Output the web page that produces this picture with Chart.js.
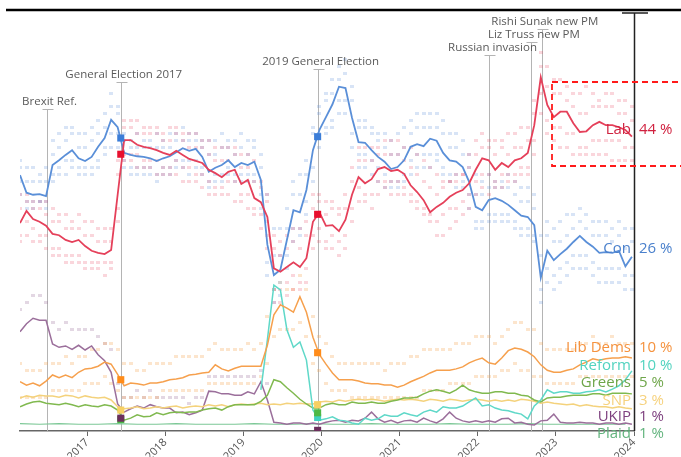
<!DOCTYPE html>
<html>
<head>
<meta charset="utf-8">
<script src="https://cdn.jsdelivr.net/npm/chart.js@4.4.1/dist/chart.umd.min.js"></script>
<style>
html, body { margin: 0; padding: 0; background: #fff; }
#wrap { width: 681px; height: 457px; }
</style>
</head>
<body>
<div id="wrap"><canvas id="myChart" width="681" height="457"></canvas></div>
<script>
// monthly polling averages, first point Feb 2016
const startYear = 2016.14;

const conVals = [37.9,35.3,35.0,35.1,34.8,39.4,40.1,40.9,41.6,40.4,40.0,40.6,
    42.1,43.4,46.1,45.0,41.2,40.9,40.7,40.6,40.4,40.0,40.4,40.7,
    41.3,41.9,41.5,41.8,40.6,38.4,39.0,39.4,40.1,39.1,39.7,39.4,
    39.9,37.2,27.6,23.1,23.9,28.3,32.7,32.4,35.7,41.6,44.6,46.5,
    48.4,51.0,50.8,46.4,42.8,42.7,41.6,40.6,39.9,38.8,39.1,40.1,
    42.1,42.5,42.2,43.3,43.0,41.2,40.1,39.9,39.1,36.9,33.2,32.7,
    34.2,34.5,34.1,33.5,32.7,31.9,31.7,30.5,22.7,26.7,25.3,26.2,
    27.0,28.0,28.9,28.0,27.3,26.4,26.5,26.4,26.7,24.4,25.8];

const labVals = [30.8,32.6,31.4,31.0,30.4,29.2,29.0,28.3,28.0,28.3,27.4,26.7,
    26.4,26.2,26.8,35.0,43.1,43.1,42.4,42.1,41.9,41.6,41.2,40.9,
    41.5,40.9,40.3,40.0,39.7,38.7,38.2,37.6,38.4,38.7,36.6,37.2,
    34.5,33.9,31.7,24.1,23.6,24.3,25.0,24.3,25.6,31.0,32.4,30.4,
    30.5,29.6,31.3,35.0,37.6,36.7,37.3,38.8,39.1,38.5,38.7,38.1,
    36.4,35.4,34.2,32.4,33.2,33.8,34.7,35.3,35.7,36.7,38.7,40.4,
    40.1,38.7,39.7,39.1,40.1,40.4,41.2,45.3,52.4,48.3,46.5,47.3,
    47.3,45.6,44.3,44.4,45.3,45.8,45.3,45.3,45.0,44.6,43.6];

const ldVals = [7.3,6.8,7.1,6.7,7.4,8.3,7.9,8.3,7.9,8.7,9.2,9.3,
    9.6,10.2,9.9,8.4,6.7,7.1,7.0,6.8,7.1,7.1,7.3,7.6,
    7.7,7.9,8.3,8.4,8.6,8.7,9.8,9.2,8.9,9.3,9.6,9.6,
    9.6,9.6,12.7,17.2,18.7,18.2,17.6,19.9,17.6,13.9,11.3,9.9,
    8.6,7.6,7.6,7.6,7.4,7.1,7.0,7.0,6.8,6.8,6.5,6.8,
    7.3,7.7,8.1,8.6,9.0,9.0,9.0,9.2,9.5,10.1,10.5,10.8,
    10.1,9.9,10.8,11.9,12.3,12.1,11.7,11.0,9.8,9.0,8.7,8.7,
    9.0,9.2,9.8,10.2,10.7,10.5,10.7,10.8,10.8,11.0,10.8];

// Brexit Party / Reform starts April 2019 (month 37)
const reformStart = 37;
const reformVals = [6.1,13.5,21.6,20.9,15.0,12.4,13.2,10.5,3.1,1.6,1.8,2.1,
    1.6,1.5,1.2,1.0,1.9,1.6,1.8,2.4,2.2,2.2,2.7,2.4,
    2.2,2.8,3.1,2.8,3.6,3.4,3.4,3.7,4.3,4.9,3.7,3.9,
    3.4,3.1,3.0,2.7,2.5,1.8,3.7,4.6,6.1,5.6,5.8,5.8,
    5.6,5.6,5.8,5.9,6.1,5.8,6.2,6.7,7.6,8.9];

const greensVals = [3.6,4.0,4.3,4.4,4.1,4.0,3.9,4.1,3.9,3.6,3.9,3.7,
    3.6,3.9,3.7,3.1,1.6,1.9,2.4,2.1,2.2,2.7,2.4,2.7,
    2.8,2.7,2.8,2.8,3.1,3.3,3.4,3.1,3.6,3.9,3.9,3.9,
    3.9,4.4,5.3,7.6,7.3,6.4,5.6,4.7,4.0,3.4,3.4,3.9,
    4.1,3.9,3.9,4.3,4.1,4.1,4.3,4.1,4.1,4.4,4.6,4.9,
    4.9,5.0,5.5,5.9,6.1,5.9,5.6,6.1,6.8,6.1,5.8,5.6,
    5.6,5.8,5.8,5.6,5.6,5.3,5.2,4.6,4.3,4.9,5.0,5.0,
    5.2,5.3,5.3,5.3,5.5,5.5,5.3,5.6,5.6,5.6,5.5];

const snpVals = [4.9,5.2,5.0,5.3,5.2,5.2,5.0,5.3,5.2,4.9,5.2,5.0,
    4.9,5.0,4.6,3.6,3.3,3.4,3.6,3.3,3.4,3.6,3.4,3.6,
    3.7,3.4,3.6,3.7,3.6,3.9,3.7,3.9,3.6,3.9,4.0,3.9,
    4.0,4.1,3.9,4.0,3.9,4.1,4.0,4.1,4.0,4.0,4.3,4.4,
    4.3,4.6,4.4,4.6,4.7,4.6,4.7,4.6,4.4,4.6,4.7,4.6,
    4.7,4.6,4.4,4.7,4.6,4.4,4.7,4.6,4.4,4.6,4.7,4.6,
    4.4,4.6,4.4,4.6,4.4,4.7,4.6,4.4,4.1,4.3,4.1,4.0,
    3.9,4.0,3.7,3.9,3.7,3.6,3.6,3.4,3.6,3.4,3.3];

const ukipVals = [14.7,15.9,16.7,16.4,16.4,12.9,12.4,12.6,12.1,12.7,12.0,12.6,
    11.3,10.4,8.7,4.0,2.8,3.3,3.7,3.4,3.9,3.6,3.4,3.4,
    2.7,2.8,2.4,2.7,3.1,5.9,5.8,5.5,5.5,5.3,5.3,5.8,
    5.5,7.3,4.6,1.3,1.2,1.0,1.2,1.2,1.0,1.2,1.0,1.3,
    1.5,1.6,1.3,1.6,1.5,1.9,2.8,1.8,1.3,1.6,1.2,1.5,
    1.6,1.3,1.9,1.5,1.2,1.8,2.8,1.9,1.5,1.3,1.5,1.3,
    1.5,1.3,1.8,1.9,1.2,1.3,1.0,0.9,1.5,1.6,2.5,1.3,
    1.2,1.2,1.3,1.2,1.2,1.0,1.2,1.2,1.0,1.2,1.0];

// plaid every 3 months
const plaidVals = [1.1,1.0,1.1,1.0,1.0,1.1,1.0,1.0,1.1,1.0,1.0,1.0,1.1,1.0,1.0,1.1,
    1.0,1.0,1.1,1.0,1.0,1.0,1.1,1.0,1.0,1.0,1.1,1.0,1.0,1.0,1.0,1.0];

// single polls: highest, typical high, typical low and lowest reading each month
const conHi = [40,39,39,38,39, 43,44,45,45,44,44,45,46,47,50, 48,
    44,43,44,43,43,44,43,44,44,45,44,44,43,43,43,44,43,43,44,43,43,
    41,35,30,30,33,37,38,40, 45,48,50,52,54,55,51,46,
    46,45,44,44,43,44,45,46,47,47,47,47,46,44,44,43,
    41,38,37,38,37,37,38,37,36,36,35,
    29,31,30,31,32,32,33,32,31,31,31,30,31,30,30];
const conMidHi = [39,37,37,37,37, 41,42,43,44,42,42,43,44,45,48, 47,
    43,42,42,42,42,42,42,42,43,43,43,43,42,41,41,42,42,41,42,41,42,
    39,31,26,26,30,35,35,38, 44,47,49,50,52,53,49,45,
    45,44,43,42,41,41,42,44,45,45,45,45,44,42,42,41,
    39,35,35,36,36,36,36,35,34,34,33,
    26,29,28,28,29,30,31,30,29,29,29,28,29,27,28];
const conMidLo = [37,34,34,34,34, 38,39,40,40,39,39,39,40,42,44, 44,
    40,39,39,39,39,38,39,39,40,40,40,40,39,37,38,38,39,38,38,38,38,
    35,25,21,22,26,30,30,34, 39,44,45,46,49,49,44,41,
    41,40,39,38,37,37,38,40,41,41,41,41,39,38,38,37,
    35,31,31,32,32,32,32,31,30,30,29,
    21,24,23,24,25,26,26,26,25,24,24,24,24,23,23];
const conLo = [35,33,33,34,33, 37,38,38,39,38,38,38,39,41,42, 42,
    39,38,38,38,38,37,38,38,39,39,38,39,38,36,37,37,38,37,37,37,37,
    33,23,19,20,24,28,29,32, 37,42,44,45,47,47,42,39,
    39,38,37,36,36,36,37,38,39,39,39,40,38,37,36,36,
    33,30,30,31,31,31,31,30,29,29,28,
    19,22,21,22,23,24,24,24,23,22,22,22,22,21,21];
const labHi = [35,35,34,34,34, 33,32,32,31,32,31,31,30,30,30, 40,
    46,46,46,45,45,45,44,45,45,44,44,44,43,43,42,42,42,42,41,41,40,
    37,35,29,28,29,30,30,31, 35,35,34,34,33,35,39,42,
    42,42,42,43,43,43,42,42,41,40,39,38,37,37,38,38,
    41,43,44,43,43,43,44,44,45,45,49,
    56,54,52,52,51,50,50,51,50,49,50,50,49,49,48];
const labMidHi = [33,34,33,33,32, 31,31,30,30,30,29,29,28,28,28, 38,
    45,45,44,44,44,44,43,43,44,43,42,42,42,41,40,40,40,41,39,39,37,
    36,34,27,26,27,28,27,29, 33,34,32,33,32,33,37,40,
    40,40,41,41,41,41,40,39,38,37,36,35,36,37,37,38,
    39,41,42,42,41,42,41,42,42,43,47,
    54,51,50,50,49,48,47,47,48,48,48,48,47,47,46];
const labMidLo = [29,31,30,29,29, 27,27,26,26,26,25,25,25,25,25, 33,
    41,41,41,40,40,40,39,39,40,39,39,38,38,37,36,36,37,37,35,35,33,
    32,29,21,21,22,23,22,24, 29,30,28,29,28,29,33,36,
    35,35,37,37,37,37,36,35,34,33,32,31,32,33,33,34,
    35,37,38,38,37,38,38,38,39,39,43,
    50,46,45,45,44,44,42,42,43,43,43,43,43,42,42];
const labLo = [28,29,28,28,27, 26,26,25,25,25,24,24,24,23,24, 31,
    40,40,39,39,39,38,38,38,38,37,37,37,36,35,35,35,35,34,34,33,32,
    30,27,19,19,20,21,21,22, 27,28,27,27,26,27,31,34,
    34,33,35,36,35,35,35,34,33,32,31,29,29,30,31,32,
    33,35,36,35,36,36,37,37,38,38,41,
    47,44,43,42,42,41,41,41,41,41,41,40,40,40,40];
const ldHi = [10,9,9,9,10,10,10,11,10,11,11,12,12,13,13, 12,
    10,10,9,9,10,10,10,10,11,11,11,11,11,12,13,12,12,12,12,13,12,
    13,17,21,22,21,21,23,21, 17,14,13,11,10,10,10,10,
    10,10,10,9,10,10,10,11,11,12,12,12,12,12,13,13,
    13,14,14,14,13,14,15,16,16,15,15,
    13,12,12,12,12,12,13,13,14,13,13,14,13,13,13];
const ldLo = [5,5,5,5,5,6,6,6,6,6,7,7,7,8,7, 6,
    5,5,5,5,5,5,6,6,6,6,6,6,6,7,7,7,7,7,7,7,7,
    8,10,14,15,15,15,16,14, 10,9,7,6,6,6,5,5,
    5,5,5,5,5,5,5,5,5,6,6,6,6,7,7,7,
    7,8,8,8,8,9,9,10,9,9,8,
    8,7,7,7,7,7,8,8,8,8,8,8,8,8,8];
// UKIP highest poll, up to the 2019 slump
const ukipHi = [18,19,20,20,19,16,15,16,15,15,15,15,14,13,12,7,5,5,6,5,
    6,5,5,5,5,5,4,5,5,8,8,8,8,8,8,8,8,9,7];

// general election results (2017, 2019)
const electionDates = [2017.43, 2019.95];
const conResult = [43.4, 43.6];
const labResult = [41.0, 32.1];
const ldResult = [7.6, 11.6];
const snpResult = [3.1, 3.9];
const greensResult = [1.7, 2.7];
const reformResult = [null, 2.0];
const ukipResult = [1.9, 0.1];

const eventNames = ['Brexit Ref.', 'General Election 2017', '2019 General Election',
    'Russian invasion', 'Liz Truss new PM', 'Rishi Sunak new PM'];
const eventDates = [2016.48, 2017.43, 2019.95, 2022.15, 2022.68, 2022.82];

const yearTicks = [2017, 2018, 2019, 2020, 2021, 2022, 2023, 2024];

const partyNames = ['Lab', 'Con', 'Lib Dems', 'Reform', 'Greens', 'SNP', 'UKIP', 'Plaid'];
const latestShare = [44, 26, 10, 10, 5, 3, 1, 1];

function pts(vals, offset, step) {
    return vals.map((v, i) => ({ x: startYear + (offset + i * step) / 12, y: v }));
}
function resultPts(vals) {
    const out = [];
    vals.forEach((v, i) => { if (v !== null) out.push({ x: electionDates[i], y: v }); });
    return out;
}

function lineSet(label, data, color, width) {
    return { type: 'line', label: label, data: data, borderColor: color, borderWidth: width,
        pointRadius: 0, tension: 0, fill: false };
}
function markerSet(label, data, color) {
    return { type: 'scatter', label: label, data: data, backgroundColor: color, borderColor: color,
        pointStyle: 'rect', pointRadius: 5, borderWidth: 0 };
}
// little dash used for single polls
function dash(color) {
    const c = document.createElement('canvas');
    c.width = 4; c.height = 3;
    const g = c.getContext('2d');
    g.fillStyle = color;
    g.fillRect(0, 0, 4, 3);
    return c;
}
function pollSet(label, data, color) {
    return { type: 'scatter', label: label, data: data, pointStyle: dash(color), pointRadius: 2 };
}

// label layout (pixels) for the events and the end labels
const capY = [109, 82, 69, 55, 42, 29];
const endLabelY = [130, 249, 348, 366, 383, 401, 417, 434];
const endLabelColor = ['#d0213f', '#4a80cc', '#f5923e', '#52d3bf', '#6fa64a', '#f6d27e', '#7d3f7e', '#63b47e'];

const decor = {
    id: 'decor',
    beforeDatasetsDraw(chart) {
        const ctx = chart.ctx;
        const x = chart.scales.x;
        const bottom = chart.chartArea.bottom;
        ctx.save();
        ctx.strokeStyle = '#b4b4b4';
        ctx.lineWidth = 1;
        eventDates.forEach((d, i) => {
            const px = Math.round(x.getPixelForValue(d)) + 0.5;
            ctx.beginPath();
            ctx.moveTo(px, capY[i]);
            ctx.lineTo(px, bottom);
            ctx.moveTo(px - 5, capY[i] + 0.5);
            ctx.lineTo(px + 6, capY[i] + 0.5);
            ctx.stroke();
        });
        ctx.restore();
    },
    afterDraw(chart) {
        const ctx = chart.ctx;
        const x = chart.scales.x;
        const area = chart.chartArea;
        ctx.save();
        // event labels
        ctx.font = '11.5px "Open Sans", sans-serif';
        ctx.fillStyle = '#5a5a5a';
        ctx.textAlign = 'center';
        ctx.textBaseline = 'middle';
        eventNames.forEach((n, i) => {
            ctx.fillText(n, x.getPixelForValue(eventDates[i]) + 3, capY[i] - 7);
        });
        // end labels
        ctx.font = '15px "Open Sans", sans-serif';
        partyNames.forEach((n, i) => {
            ctx.fillStyle = endLabelColor[i];
            ctx.textAlign = 'right';
            ctx.fillText(n, area.right - 3, endLabelY[i]);
            ctx.textAlign = 'left';
            ctx.fillText(latestShare[i] + ' %', area.right + 5, endLabelY[i]);
        });
        // right axis and top rule
        ctx.strokeStyle = '#222';
        ctx.lineWidth = 1.5;
        ctx.beginPath();
        ctx.moveTo(area.right + 0.5, 13);
        ctx.lineTo(area.right + 0.5, area.bottom);
        ctx.moveTo(area.right - 12, 13);
        ctx.lineTo(area.right + 14, 13);
        ctx.stroke();
        ctx.lineWidth = 2.5;
        ctx.strokeStyle = '#000';
        ctx.beginPath();
        ctx.moveTo(6, 10);
        ctx.lineTo(681, 10);
        ctx.stroke();
        // highlight box
        ctx.strokeStyle = '#ff1a1a';
        ctx.lineWidth = 1.8;
        ctx.setLineDash([6, 4]);
        ctx.strokeRect(552, 82, 140, 84);
        ctx.restore();
    }
};

const labDot = 'rgba(232,70,94,0.22)';
const conDot = 'rgba(90,143,216,0.24)';
const ldDot = 'rgba(246,160,77,0.28)';

const ctx = document.getElementById('myChart').getContext('2d');
const myChart = new Chart(ctx, {
    data: {
        datasets: [
            markerSet('UKIP result', resultPts(ukipResult), '#6c2e5c'),
            markerSet('Con result', resultPts(conResult), '#3b7dd8'),
            markerSet('Lab result', resultPts(labResult), '#e8102e'),
            markerSet('LD result', resultPts(ldResult), '#ff8c1a'),
            markerSet('SNP result', resultPts(snpResult), '#f7d063'),
            markerSet('Greens result', resultPts(greensResult), '#4db845'),
            markerSet('Reform result', resultPts(reformResult), '#3fd1c1'),
            lineSet('Lab', pts(labVals, 0, 1), '#e5405a', 1.8),
            lineSet('Con', pts(conVals, 0, 1), '#5a8fd8', 1.8),
            lineSet('Lib Dems', pts(ldVals, 0, 1), '#f6a04d', 1.5),
            lineSet('Reform', pts(reformVals, reformStart, 1), '#5fd8c8', 1.5),
            lineSet('Greens', pts(greensVals, 0, 1), '#80b94f', 1.5),
            lineSet('SNP', pts(snpVals, 0, 1), '#f4d27c', 1.5),
            lineSet('UKIP', pts(ukipVals, 0, 1), '#9b6f9b', 1.5),
            lineSet('Plaid', pts(plaidVals, 0, 3), '#7cc896', 1.2),
            pollSet('Lab polls hi', pts(labHi, 0, 1), labDot),
            pollSet('Lab polls mid hi', pts(labMidHi, 0, 1), labDot),
            pollSet('Lab polls mid lo', pts(labMidLo, 0, 1), labDot),
            pollSet('Lab polls lo', pts(labLo, 0, 1), labDot),
            pollSet('Con polls hi', pts(conHi, 0, 1), conDot),
            pollSet('Con polls mid hi', pts(conMidHi, 0, 1), conDot),
            pollSet('Con polls mid lo', pts(conMidLo, 0, 1), conDot),
            pollSet('Con polls lo', pts(conLo, 0, 1), conDot),
            pollSet('LD polls hi', pts(ldHi, 0, 1), ldDot),
            pollSet('LD polls lo', pts(ldLo, 0, 1), ldDot),
            pollSet('UKIP polls hi', pts(ukipHi, 0, 1), 'rgba(155,111,155,0.28)')
        ]
    },
    options: {
        responsive: false,
        animation: false,
        layout: { padding: { left: 20, right: 47, top: 12, bottom: 0 } },
        plugins: { legend: { display: false }, tooltip: { enabled: false } },
        scales: {
            x: {
                type: 'linear',
                min: startYear,
                max: 2024,
                afterBuildTicks: s => { s.ticks = yearTicks.map(v => ({ value: v })); },
                afterFit: s => { s.height = 26; },
                grid: { drawOnChartArea: false, tickLength: 5, color: '#666' },
                border: { display: true, color: '#666', width: 1.5 },
                ticks: {
                    minRotation: 45, maxRotation: 45, padding: 0,
                    color: '#555', font: { family: 'Open Sans', size: 11 },
                    callback: v => String(v)
                }
            },
            y: {
                display: false,
                min: 0,
                max: 62.07
            }
        }
    },
    plugins: [decor]
});
</script>
</body>
</html>
